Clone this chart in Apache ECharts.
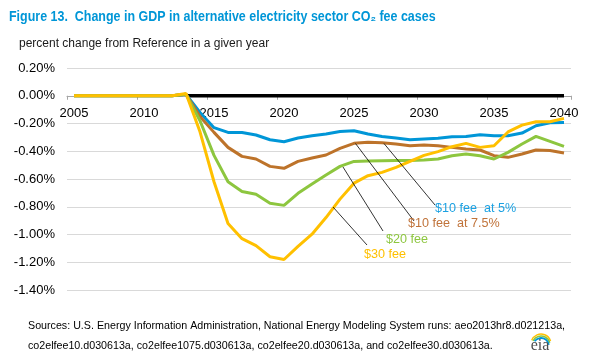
<!DOCTYPE html>
<html>
<head>
<meta charset="utf-8">
<script src="https://cdn.jsdelivr.net/npm/echarts@6/dist/echarts.min.js"></script>
<style>
html,body{margin:0;padding:0;background:#fff;}
#chart{width:591px;height:364px;}
</style>
</head>
<body>
<div id="chart"></div>
<script>
// ---- data ----
var years = ['2005','2006','2007','2008','2009','2010','2011','2012','2013','2014','2015','2016','2017','2018','2019','2020','2021','2022','2023','2024','2025','2026','2027','2028','2029','2030','2031','2032','2033','2034','2035','2036','2037','2038','2039','2040'];

var reference = [null,null,null,null,null,null,null,null,0,0,0,0,0,0,0,0,0,0,0,0,0,0,0,0,0,0,0,0,0,0,0,0,0,0,0,0];

var fee10at5 = [0,0,0,0,0,0,0,0,0.01,-0.12,-0.23,-0.264,-0.265,-0.283,-0.317,-0.331,-0.305,-0.288,-0.276,-0.257,-0.252,-0.276,-0.293,-0.305,-0.317,-0.312,-0.307,-0.295,-0.293,-0.281,-0.288,-0.288,-0.269,-0.216,-0.195,-0.193];

var fee10at75 = [0,0,0,0,0,0,0,0,0.01,-0.15,-0.264,-0.372,-0.437,-0.456,-0.509,-0.523,-0.473,-0.449,-0.427,-0.379,-0.343,-0.336,-0.338,-0.348,-0.36,-0.355,-0.36,-0.372,-0.384,-0.391,-0.432,-0.444,-0.42,-0.391,-0.395,-0.413];

var fee20 = [0,0,0,0,0,0,0,0,0.01,-0.18,-0.43,-0.62,-0.69,-0.71,-0.775,-0.79,-0.703,-0.636,-0.571,-0.509,-0.473,-0.47,-0.468,-0.466,-0.466,-0.463,-0.456,-0.432,-0.42,-0.432,-0.456,-0.408,-0.348,-0.293,-0.329,-0.365];

var fee30 = [0,0,0,0,0,0,0,0,0.016,-0.26,-0.62,-0.92,-1.03,-1.08,-1.16,-1.18,-1.086,-0.998,-0.878,-0.745,-0.63,-0.576,-0.552,-0.516,-0.473,-0.43,-0.403,-0.367,-0.343,-0.372,-0.36,-0.261,-0.212,-0.187,-0.187,-0.163];

var seriesNames = ['Reference', '$10 fee  at 5%', '$10 fee  at 7.5%', '$20 fee', '$30 fee'];

var titleText = 'Figure 13.  Change in GDP in alternative electricity sector CO\u2082 fee cases';
var subtitleText = 'percent change from Reference in a given year';
var sourceLine1 = 'Sources: U.S. Energy Information Administration, National Energy Modeling System runs: aeo2013hr8.d021213a,';
var sourceLine2 = 'co2elfee10.d030613a, co2elfee1075.d030613a, co2elfee20.d030613a, and co2elfee30.d030613a.';

// ---- styles ----
var C_BLUE = '#0096d7', C_BROWN = '#bd732a', C_GREEN = '#8dc63f', C_YELLOW = '#ffc000';
var FONT = "'Liberation Sans', Arial, sans-serif";

var chart = echarts.init(document.getElementById('chart'), null, {renderer: 'canvas'});

function lineSeries(name, data, color, width, z) {
  return {
    name: name, type: 'line', data: data, symbol: 'none', smooth: false,
    connectNulls: false, z: z, animation: false,
    lineStyle: {color: color, width: width},
    itemStyle: {color: color}
  };
}

var option = {
  animation: false,
  backgroundColor: '#fff',
  grid: {left: 67, right: 20, top: 68, bottom: 74, containLabel: false},
  xAxis: {
    type: 'category', data: years, boundaryGap: true, offset: 0,
    axisLine: {onZero: false, lineStyle: {color: '#a6a6a6', width: 1}},
    axisTick: {show: true, interval: 4, length: 4, lineStyle: {color: '#a6a6a6'}},
    axisLabel: {interval: 4, color: '#000', fontSize: 13, fontFamily: FONT, margin: 11},
    splitLine: {show: false}
  },
  yAxis: {
    type: 'value', min: -1.4, max: 0.2, interval: 0.2,
    axisLine: {show: false}, axisTick: {show: false},
    axisLabel: {
      color: '#000', fontSize: 13, fontFamily: FONT, margin: 12,
      formatter: function (v) { if (Math.abs(v) < 1e-9) v = 0; return v.toFixed(2) + '%'; }
    },
    splitLine: {lineStyle: {color: '#d9d9d9', width: 1}}
  },
  series: [
    lineSeries(seriesNames[0], reference, '#000000', 3.5, 1),
    lineSeries(seriesNames[1], fee10at5, C_BLUE, 3, 2),
    lineSeries(seriesNames[2], fee10at75, C_BROWN, 3, 3),
    lineSeries(seriesNames[3], fee20, C_GREEN, 3, 4),
    lineSeries(seriesNames[4], fee30, C_YELLOW, 3, 5)
  ],
  graphic: [
    {type: 'text', x: 9, y: 17, scaleX: 0.89, style: {text: titleText, fill: C_BLUE, font: "bold 14px 'Liberation Sans', Arial, sans-serif", textVerticalAlign: 'middle'}},
    {type: 'text', x: 19, y: 44, style: {text: subtitleText, fill: '#1a1a1a', font: "12px " + FONT, textVerticalAlign: 'middle'}},
    // leader lines
    {type: 'line', shape: {x1: 333, y1: 207, x2: 367, y2: 245}, style: {stroke: '#000', lineWidth: 0.8}, z: 10},
    {type: 'line', shape: {x1: 343, y1: 167, x2: 383, y2: 231}, style: {stroke: '#000', lineWidth: 0.8}, z: 10},
    {type: 'line', shape: {x1: 355.5, y1: 143.5, x2: 414, y2: 221}, style: {stroke: '#000', lineWidth: 0.8}, z: 10},
    {type: 'line', shape: {x1: 384, y1: 143.5, x2: 435, y2: 205}, style: {stroke: '#000', lineWidth: 0.8}, z: 10},
    // annotation labels
    {type: 'text', x: 435, y: 209, z: 11, style: {text: seriesNames[1], fill: '#1ba1e2', font: "12.6px " + FONT, textVerticalAlign: 'middle'}},
    {type: 'text', x: 408, y: 224, z: 11, style: {text: seriesNames[2], fill: '#c0733a', font: "12.6px " + FONT, textVerticalAlign: 'middle'}},
    {type: 'text', x: 386, y: 239.5, z: 11, style: {text: seriesNames[3], fill: C_GREEN, font: "12.6px " + FONT, textVerticalAlign: 'middle'}},
    {type: 'text', x: 364, y: 255, z: 11, style: {text: seriesNames[4], fill: C_YELLOW, font: "12.6px " + FONT, textVerticalAlign: 'middle'}},
    // sources
    {type: 'text', x: 28, y: 326, style: {text: sourceLine1, fill: '#000', font: "10.7px " + FONT, textVerticalAlign: 'middle'}},
    {type: 'text', x: 28, y: 346, style: {text: sourceLine2, fill: '#000', font: "10.7px " + FONT, textVerticalAlign: 'middle'}},
    // eia logo
    {type: 'arc', shape: {cx: 541, cy: 344, r: 10, startAngle: Math.PI * 1.12, endAngle: Math.PI * 1.9}, style: {stroke: C_YELLOW, lineWidth: 1.5, fill: null}},
    {type: 'arc', shape: {cx: 541, cy: 345, r: 9, startAngle: Math.PI * 1.15, endAngle: Math.PI * 1.92}, style: {stroke: C_GREEN, lineWidth: 1.5, fill: null}},
    {type: 'arc', shape: {cx: 541, cy: 346, r: 8, startAngle: Math.PI * 1.2, endAngle: Math.PI * 1.95}, style: {stroke: C_BLUE, lineWidth: 1.8, fill: null}},
    {type: 'text', x: 540, y: 346, style: {text: 'eia', fill: '#4d4d4d', font: "16px 'Liberation Serif', 'DejaVu Serif', serif", textAlign: 'center', textVerticalAlign: 'middle'}}
  ]
};

chart.setOption(option);

// place the category axis on the zero line of the value axis, using the library's own scale
var zeroPx = chart.convertToPixel({yAxisIndex: 0}, 0);
var minPx = chart.convertToPixel({yAxisIndex: 0}, -1.4);
chart.setOption({xAxis: {offset: -(minPx - zeroPx)}});
</script>
</body>
</html>
